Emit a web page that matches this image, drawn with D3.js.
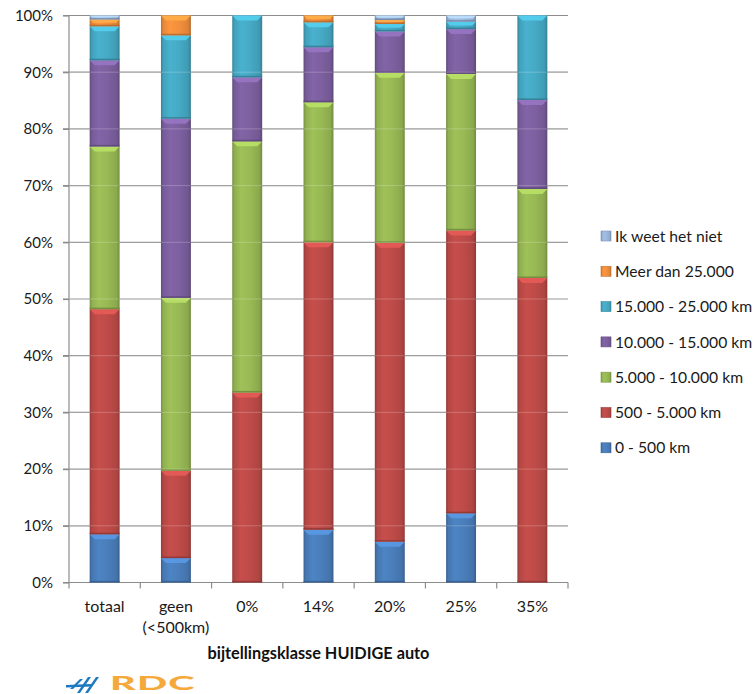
<!DOCTYPE html>
<html>
<head>
<meta charset="utf-8">
<script src="https://cdn.jsdelivr.net/npm/d3@7"></script>
<style>
  html, body { margin: 0; padding: 0; background: #fff; }
  svg { display: block; font-family: Lato, "Open Sans", sans-serif; }
</style>
</head>
<body>
<div id="chart"></div>
<script>
// Distance-class shares (%) per company-car tax bracket
const categories = ["totaal", "geen (<500km)", "0%", "14%", "20%", "25%", "35%"];
const categoryLines = [["totaal"], ["geen", "(<500km)"], ["0%"], ["14%"], ["20%"], ["25%"], ["35%"]];

// series, bottom to top of each stack
const seriesNames = ["0 - 500 km", "500 - 5.000 km", "5.000 - 10.000 km", "10.000 - 15.000 km",
                     "15.000 - 25.000 km", "Meer dan 25.000", "Ik weet het niet"];
const km0_500      = [8.5,  4.3,  0.0,  9.3,  7.2, 12.2,  0.0];
const km500_5000   = [39.7, 15.4, 33.5, 50.7, 52.7, 49.9, 53.7];
const km5000_10000 = [28.7, 30.5, 44.3, 24.7, 30.0, 27.6, 15.7];
const km10000_15000= [15.2, 31.6, 11.3,  9.7,  7.3,  7.9, 15.7];
const km15000_25000= [6.0, 14.7, 10.9,  4.4,  1.3,  1.3, 14.9];
const kmOver25000  = [1.2,  3.5,  0.0,  1.2,  0.7,  0.0,  0.0];
const unknown      = [0.7,  0.0,  0.0,  0.0,  0.8,  1.1,  0.0];
const seriesValues = [km0_500, km500_5000, km5000_10000, km10000_15000, km15000_25000, kmOver25000, unknown];
const seriesColors = ["#4a7ebb", "#be4b48", "#98b954", "#7d60a0", "#46aac5", "#f38f3c", "#9cb8dc"];

const yTicks = [0, 10, 20, 30, 40, 50, 60, 70, 80, 90, 100];
const xTitle = "bijtellingsklasse HUIDIGE auto";

const W = 755, H = 694;
const svg = d3.select("#chart").append("svg").attr("width", W).attr("height", H);
const defs = svg.append("defs");

// horizontal shading for the glossy columns
seriesColors.forEach((c, i) => {
  const g = defs.append("linearGradient").attr("id", "grad" + i)
    .attr("x1", "0%").attr("x2", "100%").attr("y1", "0%").attr("y2", "0%");
  const base = d3.color(c);
  [[0, base.darker(0.7)], [0.08, base.darker(0.15)], [0.3, base.brighter(0.12)],
   [0.6, base], [0.9, base.darker(0.25)], [1, base.darker(0.8)]]
    .forEach(([o, col]) => g.append("stop").attr("offset", o).attr("stop-color", col.formatHex()));
});

const y = d3.scaleLinear().domain([0, 100]).range([582.5, 15.5]);
const x = d3.scaleBand().domain(categories).range([69, 568]).paddingInner(0.58).paddingOuter(0.29);

// table for the stack layout
const table = categories.map((c, ci) => {
  const row = { cat: c };
  seriesNames.forEach((s, si) => row[s] = seriesValues[si][ci]);
  return row;
});
const stacked = d3.stack().keys(seriesNames)(table);

const gridColor = "#8c8c8c";

// gridlines
svg.append("g").selectAll("line").data(yTicks.slice(1)).join("line")
  .attr("x1", 63).attr("x2", 568)
  .attr("y1", d => y(d)).attr("y2", d => y(d))
  .attr("stroke", gridColor).attr("stroke-width", 1.2);

// y axis
const yAxis = d3.axisLeft(y).tickValues(yTicks).tickFormat(d => d + "%").tickSize(6).tickPadding(10);
const gy = svg.append("g").attr("transform", "translate(69,0)").call(yAxis);
gy.select(".domain").attr("stroke", gridColor).attr("stroke-width", 1.2).attr("d", `M0,${y(0)}V${y(100)}`);
gy.selectAll(".tick line").attr("stroke", gridColor).attr("stroke-width", 1.2);
gy.selectAll(".tick text").attr("font-family", "Lato, sans-serif").attr("font-size", 15).attr("fill", "#1a1a1a");

// x axis baseline and boundary ticks
const step = x.step();
const bounds = d3.range(categories.length + 1).map(i => 69 + i * step);
svg.append("line").attr("x1", 63).attr("x2", 568).attr("y1", y(0)).attr("y2", y(0))
  .attr("stroke", gridColor).attr("stroke-width", 1.2);
svg.append("g").selectAll("line").data(bounds).join("line")
  .attr("x1", d => d).attr("x2", d => d).attr("y1", y(0)).attr("y2", y(0) + 6)
  .attr("stroke", gridColor).attr("stroke-width", 1.2);

// stacked columns
const layers = svg.append("g").selectAll("g").data(stacked).join("g");
layers.each(function(layer, si) {
  const g = d3.select(this);
  const base = d3.color(seriesColors[si]);
  const segs = layer.filter(d => d[1] - d[0] > 0);
  segs.forEach(d => {
    const x0 = x(d.data.cat), bw = x.bandwidth();
    const top = y(d[1]), bot = y(d[0]), h = bot - top;
    g.append("rect").attr("x", x0).attr("y", top).attr("width", bw).attr("height", h)
      .attr("fill", `url(#grad${si})`);
    const bv = Math.min(5, h / 2);
    // lighter bevel along the top edge
    g.append("path")
      .attr("d", `M${x0},${top}H${x0 + bw}L${x0 + bw - bv},${top + bv}H${x0 + bv}Z`)
      .attr("fill", base.brighter(0.55).formatHex()).attr("opacity", 0.9);
    // darker seam along the bottom edge
    const bb = Math.min(1.6, h / 3);
    g.append("rect").attr("x", x0).attr("y", bot - bb).attr("width", bw).attr("height", bb)
      .attr("fill", base.darker(0.9).formatHex()).attr("opacity", 0.8);
  });
});

// faint gridline sheen through the columns
svg.append("g").selectAll("line").data(yTicks.slice(1, -1)).join("line")
  .attr("x1", 69).attr("x2", 568)
  .attr("y1", d => y(d)).attr("y2", d => y(d))
  .attr("stroke", "#ffffff").attr("stroke-opacity", 0.22).attr("stroke-width", 1);

// category labels
const xl = svg.append("g").selectAll("text").data(categories).join("text")
  .attr("x", d => x(d) + x.bandwidth() / 2).attr("y", 612)
  .attr("text-anchor", "middle").attr("font-size", 16).attr("fill", "#1a1a1a");
xl.each(function(d, i) {
  d3.select(this).selectAll("tspan").data(categoryLines[i]).join("tspan")
    .attr("x", x(d) + x.bandwidth() / 2).attr("dy", (t, j) => j === 0 ? 0 : 20.5).text(t => t);
});

// axis title
svg.append("text").attr("x", (69 + 568) / 2).attr("y", 659).attr("text-anchor", "middle")
  .attr("font-size", 16.3).attr("font-weight", 700).attr("fill", "#111").text(xTitle);

// legend, top entry is the last series
const legendOrder = d3.range(seriesNames.length).reverse();
const lg = svg.append("g").selectAll("g").data(legendOrder).join("g")
  .attr("transform", (d, i) => `translate(601,${236 + i * 35.3})`);
lg.append("rect").attr("x", 0).attr("y", -5).attr("width", 10).attr("height", 10)
  .attr("fill", d => `url(#grad${d})`).attr("stroke", d => d3.color(seriesColors[d]).darker(0.6).formatHex())
  .attr("stroke-width", 0.6);
lg.append("text").attr("x", 14).attr("y", 0).attr("dy", "0.36em")
  .attr("font-size", 15.7).attr("fill", "#1a1a1a").text(d => seriesNames[d]);

// company logo
const logo = svg.append("g");
const blue = "#1d7ac0";
logo.append("path").attr("fill", blue)
  .attr("d", "M66,685 L91,684 L91,686.5 L66,687.5 Z");
[[70, 689, 80, 679], [77, 693, 88, 677], [85, 693, 96, 677]].forEach(([bx, by, tx, ty]) => {
  logo.append("path").attr("fill", blue)
    .attr("d", `M${bx},${by} L${tx},${ty} L${tx + 3},${ty} L${bx + 3},${by} Z`);
});
logo.append("text").attr("x", 110).attr("y", 690)
  .attr("font-size", 18.5).attr("font-weight", 900).attr("fill", "#f6a93b")
  .attr("font-family", "Lato, sans-serif")
  .attr("transform", "translate(110,0) scale(2.15,1) translate(-110,0)")
  .attr("letter-spacing", 0.5).text("RDC");
</script>
</body>
</html>
